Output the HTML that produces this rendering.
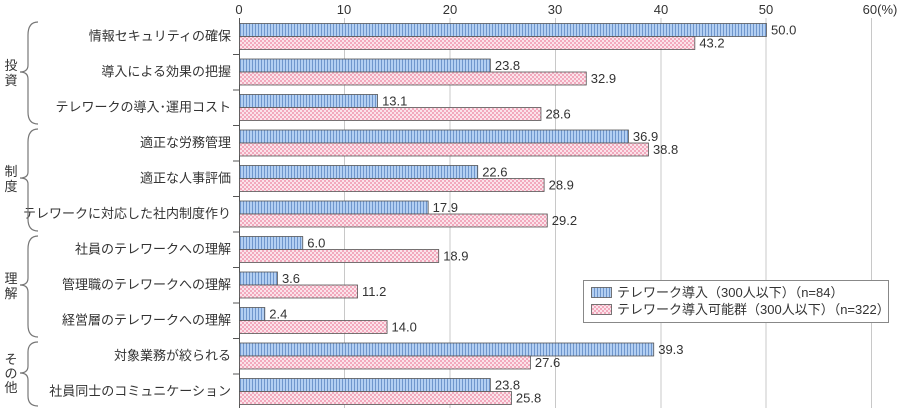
<!DOCTYPE html>
<html><head><meta charset="utf-8"><style>
body{margin:0;background:#fff;}
svg{display:block;font-family:"Liberation Sans","Noto Sans CJK JP",sans-serif;}
</style></head><body>
<svg width="903" height="412" viewBox="0 0 903 412" xmlns="http://www.w3.org/2000/svg">
<defs>
<pattern id="pb" width="3" height="13" patternUnits="userSpaceOnUse">
<rect width="3" height="13" fill="#b3cff2"/><rect x="0" width="1" height="13" fill="#6f96cc"/>
</pattern>
<pattern id="pp" width="4" height="4" patternUnits="userSpaceOnUse">
<rect width="4" height="4" fill="#fbe3ea"/><rect width="2" height="2" fill="#f2a9bd"/><rect x="2" y="2" width="2" height="2" fill="#f2a9bd"/>
</pattern>
</defs>
<g stroke="#c8c8c8" stroke-width="1">
<line x1="344.5" y1="18" x2="344.5" y2="408"/><line x1="450" y1="18" x2="450" y2="408"/>
<line x1="555.5" y1="18" x2="555.5" y2="408"/><line x1="661" y1="18" x2="661" y2="408"/>
<line x1="766" y1="18" x2="766" y2="408"/><line x1="871.5" y1="18" x2="871.5" y2="408"/>
</g>
<g font-size="13" fill="#333" text-anchor="middle">
<text x="239" y="14">0</text><text x="344" y="14">10</text><text x="450" y="14">20</text>
<text x="555" y="14">30</text><text x="661" y="14">40</text><text x="766" y="14">50</text>
<text x="880" y="14">60(%)</text>
</g>
<line x1="239.5" y1="18" x2="239.5" y2="408" stroke="#555"/>
<g stroke="#555">
<line x1="233" y1="54.5" x2="239" y2="54.5"/><line x1="233" y1="90" x2="239" y2="90"/>
<line x1="233" y1="125.5" x2="239" y2="125.5"/><line x1="233" y1="161" x2="239" y2="161"/>
<line x1="233" y1="196.5" x2="239" y2="196.5"/><line x1="233" y1="232" x2="239" y2="232"/>
<line x1="233" y1="267.5" x2="239" y2="267.5"/><line x1="233" y1="303" x2="239" y2="303"/>
<line x1="233" y1="338.5" x2="239" y2="338.5"/><line x1="233" y1="374" x2="239" y2="374"/>
</g>
<g id="bars" stroke="#555" stroke-width="0.8"></g>
<g id="labs" font-size="13" fill="#333"></g>
<g id="cats" font-size="13" fill="#333" text-anchor="end"></g>
<g fill="none" stroke="#777" stroke-width="1.2">
<path d="M38 22 Q28 22 28 35 L28 65 Q28 72 20 72 Q28 72 28 79 L28 112 Q28 124 38 124"/>
<path d="M38 129 Q28 129 28 142 L28 172 Q28 178 20 178 Q28 178 28 184 L28 219 Q28 231 38 231"/>
<path d="M38 236 Q28 236 28 249 L28 278 Q28 285 20 285 Q28 285 28 292 L28 325 Q28 337 38 337"/>
<path d="M38 342 Q28 342 28 352 L28 366 Q28 373 20 373 Q28 373 28 380 L28 396 Q28 406 38 406"/>
</g>
<g font-size="13" fill="#333" text-anchor="middle">
<text x="11" y="70">投</text><text x="11" y="85">資</text>
<text x="11" y="176">制</text><text x="11" y="191">度</text>
<text x="11" y="283">理</text><text x="11" y="298">解</text>
<text x="11" y="364">そ</text><text x="11" y="378">の</text><text x="11" y="392">他</text>
</g>
<rect x="583.5" y="280.5" width="305" height="42" fill="#fff" stroke="#888"/>
<rect x="591.5" y="287.5" width="20" height="10" fill="url(#pb)" stroke="#555" stroke-width="0.8"/>
<rect x="591.5" y="304.5" width="20" height="10" fill="url(#pp)" stroke="#555" stroke-width="0.8"/>
<text x="617" y="297" font-size="13" fill="#333">テレワーク導入（300人以下）（n=84）</text>
<text x="617" y="314" font-size="13" fill="#333">テレワーク導入可能群（300人以下）（n=322）</text>
<script>
var d=[["情報セキュリティの確保",50.0,43.2],["導入による効果の把握",23.8,32.9],["テレワークの導入･運用コスト",13.1,28.6],["適正な労務管理",36.9,38.8],["適正な人事評価",22.6,28.9],["テレワークに対応した社内制度作り",17.9,29.2],["社員のテレワークへの理解",6.0,18.9],["管理職のテレワークへの理解",3.6,11.2],["経営層のテレワークへの理解",2.4,14.0],["対象業務が絞られる",39.3,27.6],["社員同士のコミュニケーション",23.8,25.8]];
var ns="http://www.w3.org/2000/svg",b=document.getElementById("bars"),l=document.getElementById("labs"),c=document.getElementById("cats");
function el(p,t,a,tx){var e=document.createElementNS(ns,t);for(var k in a)e.setAttribute(k,a[k]);if(tx)e.textContent=tx;p.appendChild(e);}
d.forEach(function(r,i){var y=23.5+i*35.5;
el(b,"rect",{x:239.5,y:y,width:r[1]*10.54,height:13,fill:"url(#pb)"});
el(b,"rect",{x:239.5,y:y+13,width:r[2]*10.54,height:13,fill:"url(#pp)"});
el(l,"text",{x:244+r[1]*10.54,y:y+11},r[1].toFixed(1));
el(l,"text",{x:244+r[2]*10.54,y:y+24},r[2].toFixed(1));
el(c,"text",{x:231,y:y+17},r[0]);});
</script>
</svg>
</body></html>
